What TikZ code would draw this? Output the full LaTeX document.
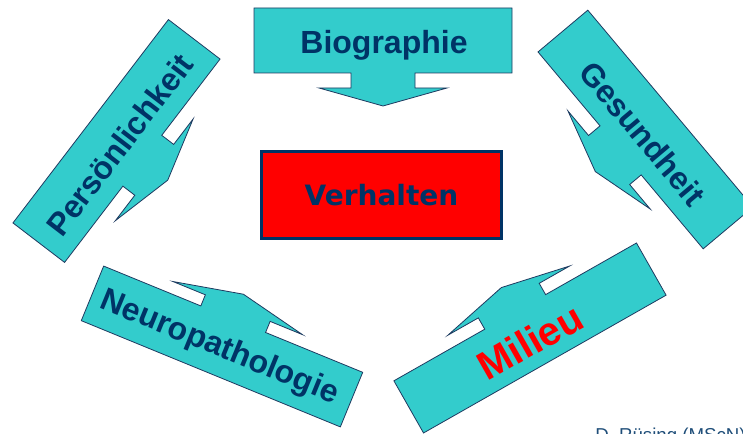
\documentclass[tikz,border=0pt]{standalone}
\usepackage{fontspec}
\setmainfont{Liberation Sans}
\newfontfamily\boxfont{DejaVu Sans}

\definecolor{tealfill}{HTML}{33CCCC}
\definecolor{navytext}{HTML}{003366}
\definecolor{navyline}{HTML}{1F3A60}
\definecolor{footblue}{HTML}{1F4E79}

\tikzset{
  calloutbox/.style={fill=tealfill, draw=navyline, line width=0.6pt, line join=miter},
  labeltext/.style={font=\bfseries\fontsize{24}{28}\selectfont, text=navytext,
    inner sep=0pt, text height=17.2pt, text depth=0pt},
  centerbox/.style={draw=navytext, line width=2.25pt, fill=red,
    minimum width=180pt, minimum height=65.25pt, inner sep=0pt,
    font=\boxfont\bfseries\fontsize{21}{25}\selectfont, text=navytext,
    text height=15.3pt, text depth=0pt},
}

% Arrow callout: box with a stem and a head on its lower side.
% #1 centre, #2 rotation, #3 half width, #4 half height,
% #5 stem half width, #6 stem length, #7 head half width, #8 head length
\newcommand\calloutarrow[8]{%
  \path[calloutbox, shift={#1}, rotate=#2]
    (-#3,#4) -- (#3,#4) -- (#3,-#4) -- (#5,-#4) -- (#5,{-#4-#6})
    -- (#7,{-#4-#6}) -- (0,{-#4-#6-#8}) -- (-#7,{-#4-#6})
    -- (-#5,{-#4-#6}) -- (-#5,-#4) -- (-#3,-#4) -- cycle;
}

\begin{document}
\begin{tikzpicture}[x=0.75pt, y=0.75pt]
  \useasboundingbox (0,0) rectangle (743,434);
  \clip (0,0) rectangle (743,434);

  % arrow callouts around the centre
  \calloutarrow{(383,393.5)}{0}{129}{32.5}{32}{15}{64}{18}
  \calloutarrow{(116.5,293)}{52.6}{128}{32.5}{32}{15}{64}{17}
  \calloutarrow{(645.5,304.5)}{-50}{128.5}{32.5}{32}{15}{64}{18}
  \calloutarrow{(222,87.5)}{157.7}{140}{29.5}{35}{12}{70}{15}
  \calloutarrow{(530,96)}{209.6}{139.5}{30}{35}{13}{70}{15}

  % labels
  \node[labeltext] (bio) at (384,391.5) {Biographie};
  \node[labeltext, rotate=52.6] (pers) at (119.5,289.5) {Persönlichkeit};
  \node[labeltext, rotate=-50] (ges) at (642.5,300.5) {Gesundheit};
  \node[labeltext, rotate=-22.3] (neuro) at (220.5,89) {Neuropathologie};
  \node[labeltext, rotate=29.6, text=red, font=\bfseries\fontsize{30}{34}\selectfont,
        text height=21.5pt] (milieu) at (530,92.5) {Milieu};

  % central box
  \node[centerbox] (verh) at (381.5,239) {Verhalten};

  % author line
  \node[anchor=north west, inner sep=0pt, text=footblue,
        font=\fontsize{14}{16}\selectfont, text height=10pt, text depth=0pt]
        (author) at (595,6) {D. Rüsing (MScN)};
\end{tikzpicture}
\end{document}
